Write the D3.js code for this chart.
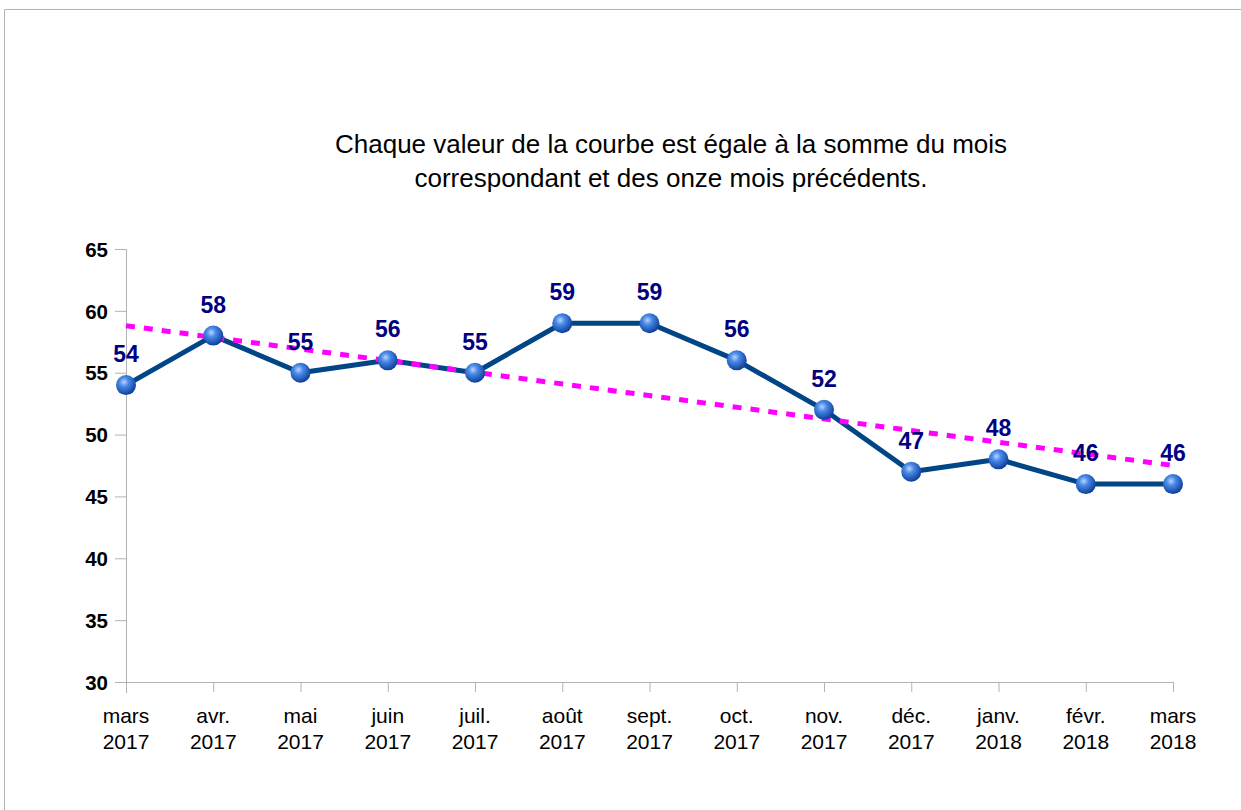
<!DOCTYPE html>
<html><head><meta charset="utf-8">
<script src="https://cdn.jsdelivr.net/npm/d3@7/dist/d3.min.js"></script>
<style>body{margin:0;background:#fff}svg{display:block}</style>
</head><body>
<svg id="c" width="1241" height="810"></svg>
<script>
const monthLabels = ["mars","avr.","mai","juin","juil.","août","sept.","oct.","nov.","déc.","janv.","févr.","mars"];
const yearLabels = ["2017","2017","2017","2017","2017","2017","2017","2017","2017","2017","2018","2018","2018"];
const values = [54,58,55,56,55,59,59,56,52,47,48,46,46];
const trendValues = [58.8, 47.5];
const yTicks = [30,35,40,45,50,55,60,65];
const titleLines = ["Chaque valeur de la courbe est égale à la somme du mois","correspondant et des onze mois précédents."];

const svg = d3.select("#c");
const font = "'Liberation Sans', Arial, sans-serif";

// frame
svg.append("path").attr("d","M4.5,810 V9.5 H1241").attr("fill","none").attr("stroke","#b3b3b3").attr("stroke-width",1);

const idx = d3.range(values.length);
const x = d3.scaleLinear().domain([0, values.length-1]).range([126, 1173]);
const y = d3.scaleLinear().domain([30,65]).range([682, 249]);

// gradient
const defs = svg.append("defs");
const g = defs.append("radialGradient").attr("id","ball").attr("cx","0.4").attr("cy","0.35").attr("r","0.65");
g.append("stop").attr("offset","0").attr("stop-color","#b8d4ff");
g.append("stop").attr("offset","0.35").attr("stop-color","#4a8ae8");
g.append("stop").attr("offset","1").attr("stop-color","#0d3f9a");

// y axis
const yAxis = d3.axisLeft(y).tickValues(yTicks).tickSize(11).tickPadding(7).tickFormat(d3.format("d"));
const ya = svg.append("g").attr("transform","translate(126,0)").call(yAxis);
ya.select(".domain").remove();
ya.selectAll(".tick line").attr("stroke","#b3b3b3");
ya.selectAll(".tick text").attr("font-family",font).attr("font-size",20.5).attr("font-weight","bold").attr("fill","#000").attr("dy","0.35em");
svg.append("line").attr("x1",126.5).attr("x2",126.5).attr("y1",249).attr("y2",693).attr("stroke","#b3b3b3");

// x axis
const xa = svg.append("g").attr("transform","translate(0,682)")
  .call(d3.axisBottom(x).tickValues(idx).tickSize(10).tickFormat(""));
xa.select(".domain").remove();
xa.selectAll(".tick line").attr("stroke","#b3b3b3");
svg.append("line").attr("x1",115).attr("x2",1173).attr("y1",682.5).attr("y2",682.5).attr("stroke","#b3b3b3");

const xl = svg.append("g").attr("font-family",font).attr("font-size",21).attr("fill","#000").attr("text-anchor","middle");
xl.selectAll("text.m").data(idx).join("text").attr("x",d=>x(d)).attr("y",723).text(d=>monthLabels[d]);
xl.selectAll("text.yr").data(idx).join("text").attr("x",d=>x(d)).attr("y",749).text(d=>yearLabels[d]);

// title
svg.append("g").selectAll("text").data(titleLines).join("text")
  .attr("x",671).attr("y",(d,i)=>153+i*34).attr("text-anchor","middle")
  .attr("font-family",font).attr("font-size",26).attr("fill","#000").text(d=>d);

// line
const line = d3.line().x(d=>x(d)).y(d=>y(values[d]));
svg.append("path").attr("d",line(idx)).attr("fill","none").attr("stroke","#004586").attr("stroke-width",5).attr("stroke-linejoin","round");

// trend
svg.append("line").attr("x1",x(0)).attr("y1",y(trendValues[0])).attr("x2",x(values.length-1)).attr("y2",y(trendValues[1]))
  .attr("stroke","#ff00ff").attr("stroke-width",5).attr("stroke-dasharray","9,9");

// markers
svg.append("g").selectAll("circle").data(idx).join("circle")
  .attr("cx",d=>x(d)).attr("cy",d=>y(values[d])).attr("r",10).attr("fill","url(#ball)");

// labels
svg.append("g").selectAll("text").data(idx).join("text")
  .attr("x",d=>x(d)).attr("y",d=>y(values[d])-23).attr("text-anchor","middle")
  .attr("font-family",font).attr("font-size",23).attr("font-weight","bold").attr("fill","#000080").text(d=>values[d]);
</script>
</body></html>
